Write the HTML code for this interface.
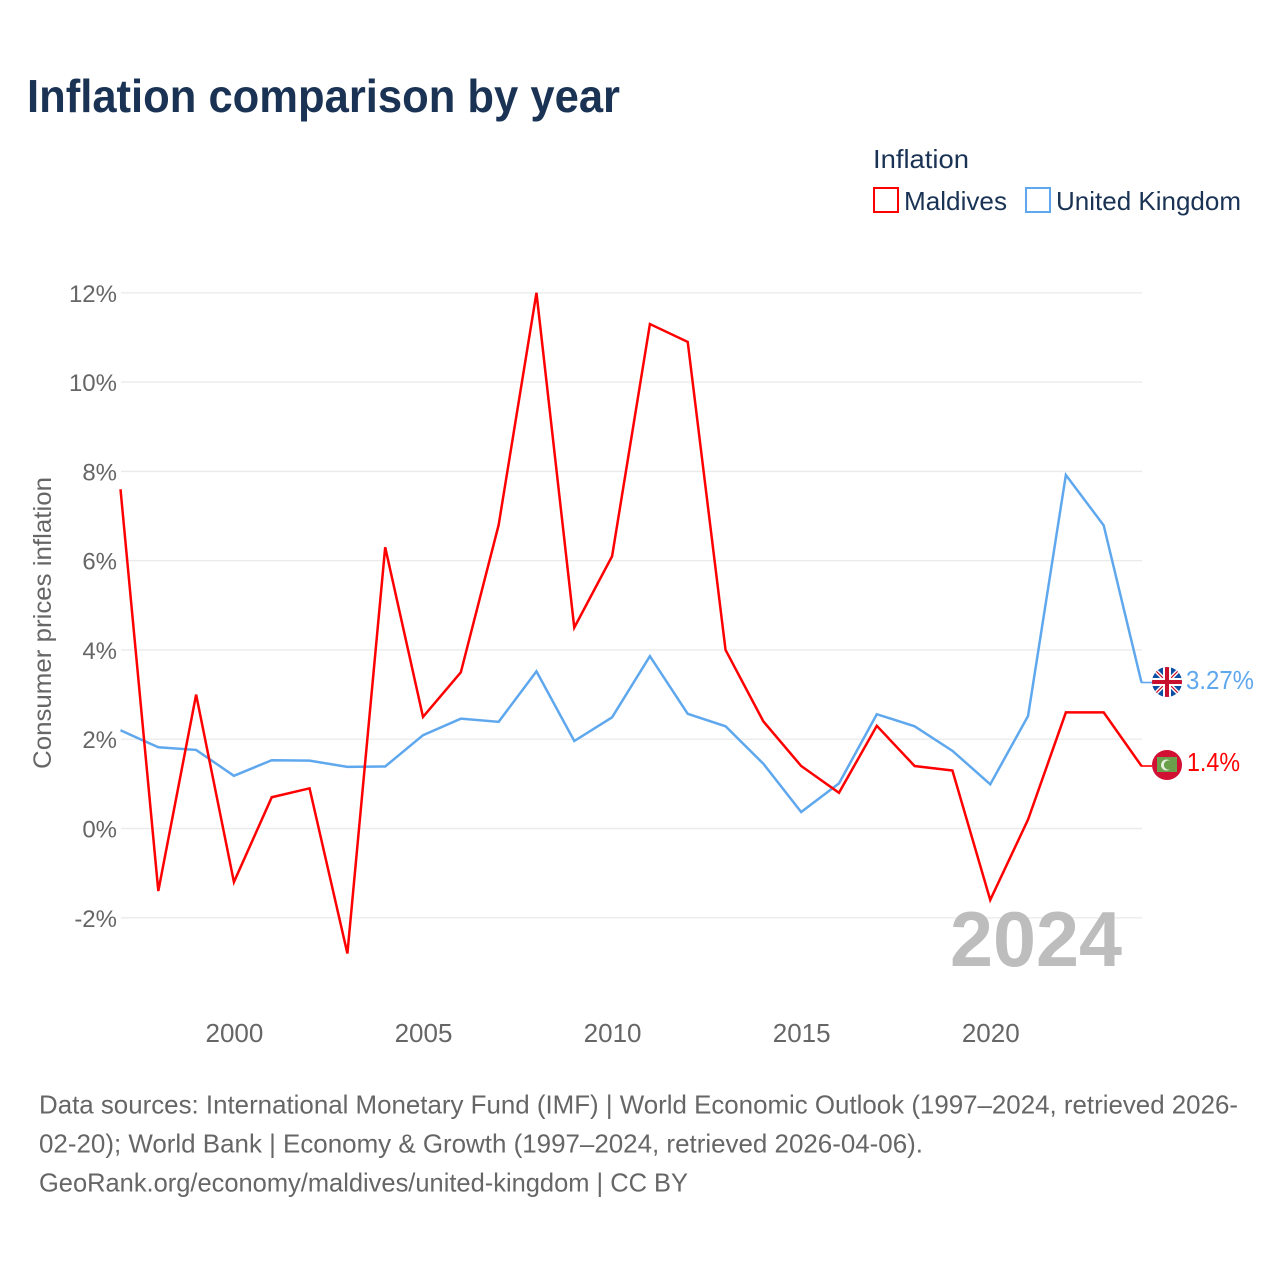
<!DOCTYPE html>
<html lang="en">
<head>
<meta charset="utf-8">
<title>Inflation comparison by year</title>
<style>
html,body{margin:0;padding:0;background:#fff;width:1280px;height:1280px;overflow:hidden}
svg{display:block;font-family:"Liberation Sans",sans-serif}
</style>
</head>
<body>
<svg id="chart" xmlns="http://www.w3.org/2000/svg" width="1280" height="1280" viewBox="0 0 1280 1280">
  <rect width="1280" height="1280" fill="#fff"/>
  <text x="27" y="112" font-size="46" font-weight="700" fill="#1a3354" textLength="593" lengthAdjust="spacingAndGlyphs">Inflation comparison by year</text>

  <g>
    <text x="873" y="168" font-size="26" fill="#1a3354" textLength="96" lengthAdjust="spacingAndGlyphs">Inflation</text>
    <rect x="874" y="188" width="24" height="24" fill="#fff" stroke="#ff0000" stroke-width="2"/>
    <text x="904" y="210" font-size="26" fill="#1a3354" textLength="103" lengthAdjust="spacingAndGlyphs">Maldives</text>
    <rect x="1026" y="188" width="24" height="24" fill="#fff" stroke="#5fa8ee" stroke-width="2"/>
    <text x="1056" y="210" font-size="26" fill="#1a3354" textLength="185" lengthAdjust="spacingAndGlyphs">United Kingdom</text>
  </g>

  <g id="grid"></g>
  <g id="yticks"></g>
  <g id="xticks"></g>
  <text transform="translate(51,623) rotate(-90)" text-anchor="middle" font-size="25" fill="#666666" textLength="292" lengthAdjust="spacingAndGlyphs">Consumer prices inflation</text>

  <text x="1122" y="966" text-anchor="end" font-size="78" font-weight="700" fill="#bdbdbd" textLength="172" lengthAdjust="spacingAndGlyphs">2024</text>

  <g id="series"></g>

  <g id="uk-end">
    <defs>
      <clipPath id="ukClip"><circle cx="1167" cy="682" r="15"/></clipPath>
      <clipPath id="mvClip"><circle cx="1167" cy="765" r="15"/></clipPath>
    </defs>
    <g clip-path="url(#ukClip)">
      <rect x="1152" y="667" width="30" height="30" fill="#0b4ea2"/>
      <path d="M1152 667L1182 697M1182 667L1152 697" stroke="#fff" stroke-width="4"/>
      <path d="M1152 667L1182 697M1182 667L1152 697" stroke="#c8102e" stroke-width="1.2"/>
      <rect x="1163" y="667" width="8" height="30" fill="#fff"/>
      <rect x="1152" y="678" width="30" height="8" fill="#fff"/>
      <rect x="1165" y="667" width="4" height="30" fill="#c8102e"/>
      <rect x="1152" y="680" width="30" height="4" fill="#c8102e"/>
    </g>
    <text id="uk-label" x="1186" y="689" font-size="26" fill="#5fa8ee" textLength="68" lengthAdjust="spacingAndGlyphs"></text>
  </g>
  <g id="mv-end">
    <g clip-path="url(#mvClip)">
      <rect x="1152" y="750" width="30" height="30" fill="#d21034"/>
      <rect x="1157" y="757" width="20" height="15" fill="#6a9f4b"/>
      <circle cx="1166.5" cy="765" r="5.5" fill="#e6efe0"/>
      <circle cx="1168.5" cy="765" r="4.6" fill="#6a9f4b"/>
    </g>
    <text id="mv-label" x="1187" y="771" font-size="26" fill="#ff0000" textLength="53" lengthAdjust="spacingAndGlyphs"></text>
  </g>

  <g font-size="26" fill="#666666">
    <text x="39" y="1113.5" textLength="1199" lengthAdjust="spacingAndGlyphs">Data sources: International Monetary Fund (IMF) | World Economic Outlook (1997–2024, retrieved 2026-</text>
    <text x="39" y="1152.5" textLength="884" lengthAdjust="spacingAndGlyphs">02-20); World Bank | Economy &amp; Growth (1997–2024, retrieved 2026-04-06).</text>
    <text x="39" y="1191.5" textLength="649" lengthAdjust="spacingAndGlyphs">GeoRank.org/economy/maldives/united-kingdom | CC BY</text>
  </g>
</svg>
<script>
const years = [1997,1998,1999,2000,2001,2002,2003,2004,2005,2006,2007,2008,2009,2010,2011,2012,2013,2014,2015,2016,2017,2018,2019,2020,2021,2022,2023,2024];
const maldivesValues = [7.6,-1.4,3.0,-1.2,0.7,0.9,-2.8,6.3,2.5,3.5,6.8,12.0,4.5,6.1,11.3,10.9,4.0,2.4,1.4,0.8,2.3,1.4,1.3,-1.6,0.2,2.6,2.6,1.4];
const ukValues = [2.2,1.82,1.76,1.18,1.53,1.52,1.38,1.39,2.09,2.46,2.39,3.52,1.96,2.49,3.86,2.57,2.29,1.45,0.37,1.01,2.56,2.29,1.74,0.99,2.52,7.92,6.79,3.27];
const yTickValues = [-2,0,2,4,6,8,10,12];
const xTickValues = [2000,2005,2010,2015,2020];

const NS = 'http://www.w3.org/2000/svg';
function xScale(v){ return 120.5 + (v - 1997) * (1141.5 - 120.5) / 27; }
function yScale(v){ return 828.5 - v * (828.5 - 292.8) / 12; }

const grid = document.getElementById('grid');
const yticks = document.getElementById('yticks');
yTickValues.forEach(function(v){
  const line = document.createElementNS(NS, 'line');
  
  
  line.setAttribute('x1', 121);
  line.setAttribute('x2', 1142);
  line.setAttribute('y1', yScale(v));
  line.setAttribute('y2', yScale(v));
  line.setAttribute('stroke', '#ebebeb');
  line.setAttribute('stroke-width', 1.4);
  grid.appendChild(line);
  const t = document.createElementNS(NS, 'text');
  
  
  t.setAttribute('x', 117);
  t.setAttribute('y', yScale(v) + 9);
  t.setAttribute('text-anchor', 'end');
  t.setAttribute('font-size', 24);
  t.setAttribute('fill', '#666666');
  t.textContent = v + '%';
  yticks.appendChild(t);
});

const xticks = document.getElementById('xticks');
xTickValues.forEach(function(v){
  const t = document.createElementNS(NS, 'text');
  
  
  t.setAttribute('x', xScale(v) + 0.5);
  t.setAttribute('y', 1042);
  t.setAttribute('text-anchor', 'middle');
  t.setAttribute('font-size', 26);
  t.setAttribute('fill', '#666666');
  t.textContent = v;
  xticks.appendChild(t);
});

function linePoints(values){
  return values.map(function(v, i){ return xScale(years[i]).toFixed(2) + ',' + yScale(v).toFixed(2); }).join(' ');
}
const series = document.getElementById('series');

const ukLine = document.createElementNS(NS, 'polyline');


ukLine.setAttribute('points', linePoints(ukValues));
ukLine.setAttribute('fill', 'none');
ukLine.setAttribute('stroke', '#5fa8ee');
ukLine.setAttribute('stroke-width', 2.5);
series.appendChild(ukLine);

const mvLine = document.createElementNS(NS, 'polyline');


mvLine.setAttribute('points', linePoints(maldivesValues));
mvLine.setAttribute('fill', 'none');
mvLine.setAttribute('stroke', '#ff0000');
mvLine.setAttribute('stroke-width', 2.5);
series.appendChild(mvLine);

const ukStub = document.createElementNS(NS, 'line');


ukStub.setAttribute('x1', 1141);
ukStub.setAttribute('x2', 1152);
ukStub.setAttribute('y1', yScale(ukValues[ukValues.length - 1]));
ukStub.setAttribute('y2', yScale(ukValues[ukValues.length - 1]));
ukStub.setAttribute('stroke', '#5fa8ee');
ukStub.setAttribute('stroke-width', 1.6);
series.appendChild(ukStub);

const mvStub = document.createElementNS(NS, 'line');


mvStub.setAttribute('x1', 1141);
mvStub.setAttribute('x2', 1152);
mvStub.setAttribute('y1', yScale(maldivesValues[maldivesValues.length - 1]));
mvStub.setAttribute('y2', yScale(maldivesValues[maldivesValues.length - 1]));
mvStub.setAttribute('stroke', '#ff0000');
mvStub.setAttribute('stroke-width', 1.6);
series.appendChild(mvStub);

document.getElementById('uk-label').textContent = ukValues[ukValues.length - 1] + '%';
document.getElementById('mv-label').textContent = maldivesValues[maldivesValues.length - 1] + '%';
</script>
</body>
</html>
